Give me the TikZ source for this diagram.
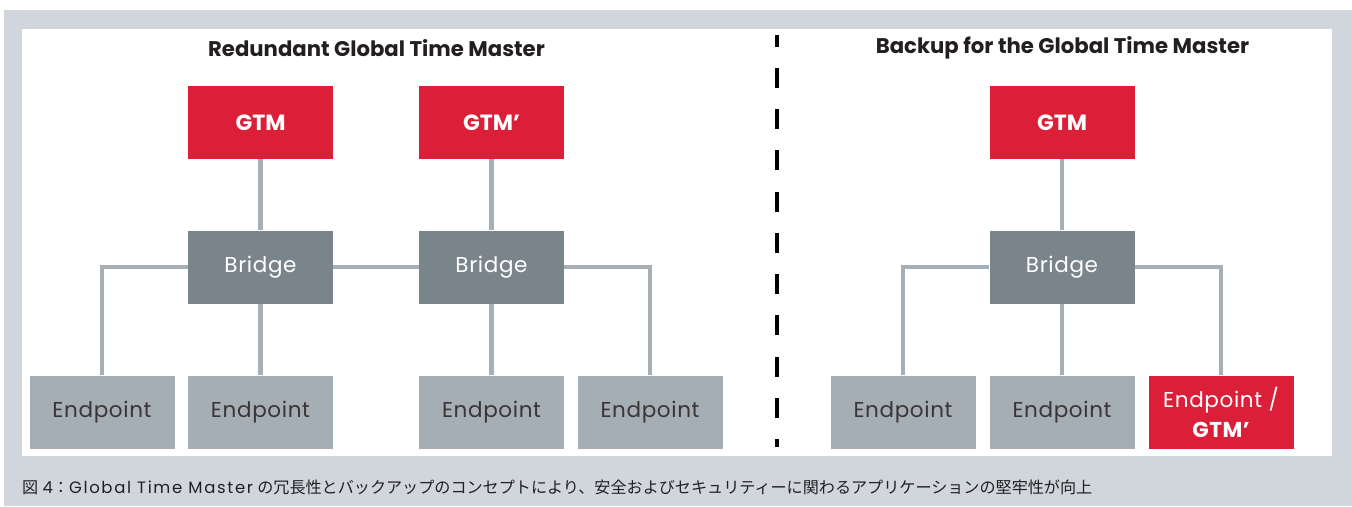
\documentclass[tikz,border=0pt]{standalone}
\usepackage{fontspec}
\setmainfont{Poppins}
\newfontfamily\boxfont[LetterSpace=3]{Poppins}
\newfontfamily\capfont[LetterSpace=10]{Poppins}
\newfontfamily\cjk{Noto Sans CJK JP}

\definecolor{gtmred}{HTML}{DC1F38}
\definecolor{bridgegrey}{HTML}{7A848B}
\definecolor{endgrey}{HTML}{A6AEB5}
\definecolor{linkgrey}{HTML}{A7AFB6}
\definecolor{framegrey}{HTML}{D1D6DD}
\definecolor{inkdark}{HTML}{231F20}

\tikzset{
  box/.style={minimum width=145pt, minimum height=73pt, inner sep=0pt},
  gtm/.style={box, fill=gtmred, text=white, font=\fontsize{22}{26}\selectfont\bfseries},
  bridge/.style={box, fill=bridgegrey, text=white, font=\boxfont\fontsize{21.5}{26}\selectfont},
  endpoint/.style={box, fill=endgrey, text=inkdark!90, font=\boxfont\fontsize{21.5}{26}\selectfont},
  link/.style={linkgrey, line width=4.5pt},
  title/.style={text=inkdark, font=\fontsize{21.2}{25}\selectfont\bfseries},
}

\begin{document}
\begin{tikzpicture}[x=1pt,y=-1pt]
\useasboundingbox (0,0) rectangle (1352,506);

% frame and white panel
\fill [framegrey] (4,10) rectangle (1352,506);
\fill [white] (22,29) rectangle (1332,456);

% left half: two masters
\node [title] (titleA) at (376.5,48) {Redundant Global Time Master};

\node [gtm] (gtmA) at (260.5,122.5) {GTM};
\node [gtm] (gtmB) at (491.5,122.5) {GTM’};

\node [bridge] (brA) at (260.5,267) {Bridge};
\node [bridge] (brB) at (491.5,267) {Bridge};

\foreach \x/\n in {102/epA1, 260.5/epA2, 491.5/epA3, 650/epA4}
  \node [endpoint] (\n) at (\x,412) {Endpoint};

\draw [link] (gtmA) -- (brA);
\draw [link] (gtmB) -- (brB);
\draw [link] (brA) -- (brB);
\draw [link] (brA.west) -| (epA1.north);
\draw [link] (brA) -- (epA2);
\draw [link] (brB) -- (epA3);
\draw [link] (brB.east) -| (epA4.north);

% divider
\draw [black, line width=4pt, dash pattern=on 20pt off 21.25pt, dash phase=8.3pt]
  (776.5,35) -- (776.5,446.7);

% right half: backup master
\node [title] (titleB) at (1062.5,48) {Backup for the Global Time Master};

\node [gtm] (gtmC) at (1062,122.5) {GTM};
\node [bridge] (brC) at (1062,267) {Bridge};

\node [endpoint] (epC1) at (903,412) {Endpoint};
\node [endpoint] (epC2) at (1062,412) {Endpoint};
\node [box, fill=gtmred, text=white, align=center, font=\boxfont\fontsize{21.5}{30}\selectfont]
  (epC3) at (1221,412) {Endpoint /\\{\bfseries GTM’}};

\draw [link] (gtmC) -- (brC);
\draw [link] (brC.west) -| (epC1.north);
\draw [link] (brC) -- (epC2);
\draw [link] (brC.east) -| (epC3.north);

% caption
\node [anchor=west, inner sep=0pt, text=inkdark, font=\fontsize{16.1}{18}\selectfont]
  (caption) at (22,487)
  {{\cjk 図} {\capfont\fontsize{16.5}{18}\selectfont 4}{\cjk ：}{\capfont\fontsize{16.5}{18}\selectfont Global Time Master} {\cjk の冗長性とバックアップのコンセプトにより、安全およびセキュリティーに関わるアプリケーションの堅牢性が向上}};

\end{tikzpicture}
\end{document}
